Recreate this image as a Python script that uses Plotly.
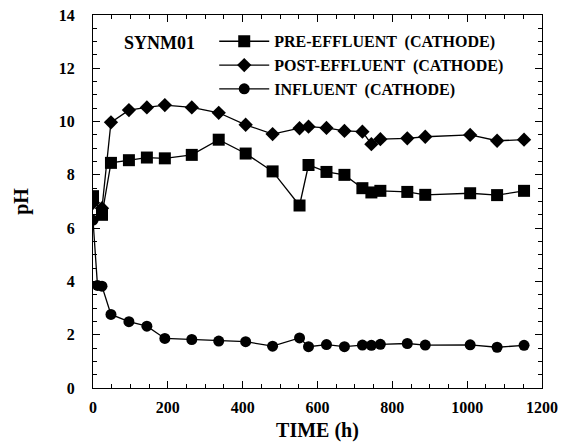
import plotly.graph_objects as go

time_main = [0, 24, 48, 96, 144, 192, 264, 336, 408, 480, 552, 576, 624, 672, 720, 744, 768, 840, 888, 1008, 1080, 1152]
pre_effluent = [7.2, 6.5, 8.45, 8.55, 8.65, 8.62, 8.75, 9.32, 8.8, 8.13, 6.85, 8.37, 8.11, 8.0, 7.5, 7.34, 7.4, 7.36, 7.25, 7.31, 7.24, 7.4]
post_effluent = [6.95, 6.75, 9.97, 10.43, 10.53, 10.62, 10.53, 10.33, 9.88, 9.53, 9.75, 9.81, 9.76, 9.65, 9.62, 9.15, 9.34, 9.37, 9.43, 9.50, 9.28, 9.32]
time_infl = [0, 12, 24, 48, 96, 144, 192, 264, 336, 408, 480, 552, 576, 624, 672, 720, 744, 768, 840, 888, 1008, 1080, 1152]
influent = [6.3, 3.85, 3.82, 2.76, 2.49, 2.32, 1.86, 1.82, 1.76, 1.74, 1.57, 1.88, 1.55, 1.63, 1.55, 1.61, 1.60, 1.64, 1.67, 1.61, 1.62, 1.53, 1.60]

names = ["PRE-EFFLUENT  (CATHODE)", "POST-EFFLUENT  (CATHODE)", "INFLUENT  (CATHODE)"]
FONT = "Liberation Serif"

fig = go.Figure()
fig.add_trace(go.Scatter(x=time_main, y=pre_effluent, mode="lines+markers", name=names[0],
                         line=dict(color="black", width=1.3),
                         marker=dict(symbol="square", size=12, color="black")))
fig.add_trace(go.Scatter(x=time_main, y=post_effluent, mode="lines+markers", name=names[1],
                         line=dict(color="black", width=1.3),
                         marker=dict(symbol="diamond", size=11, color="black")))
fig.add_trace(go.Scatter(x=time_infl, y=influent, mode="lines+markers", name=names[2],
                         line=dict(color="black", width=1.3),
                         marker=dict(symbol="circle", size=11, color="black")))

axis_common = dict(showgrid=False, zeroline=False, showline=True, linecolor="black", linewidth=1.3,
                   mirror="ticks", ticks="inside", ticklen=7, tickcolor="black", tickwidth=1.2,
                   automargin=False,
                   tickfont=dict(family=FONT, size=16, color="black", weight="bold"))

fig.update_xaxes(range=[0, 1200], dtick=200, tick0=0,
                 minor=dict(dtick=50, ticks="inside", ticklen=4, tickcolor="black"),
                 title=dict(text="<b>TIME (h)</b>", font=dict(family=FONT, size=20, color="black"), standoff=8),
                 ticklabelstandoff=5, **axis_common)
fig.update_yaxes(range=[0, 14], dtick=2, tick0=0,
                 minor=dict(dtick=0.5, ticks="inside", ticklen=4, tickcolor="black"),
                 title=dict(text="<b>pH</b>", font=dict(family=FONT, size=20, color="black"), standoff=24),
                 ticklabelstandoff=14, **axis_common)

fig.add_annotation(x=0.065, y=0.925, xref="paper", yref="paper", xanchor="left", yanchor="middle",
                   text="<b>SYNM01</b>", showarrow=False, font=dict(family=FONT, size=18, color="black"))

fig.update_layout(
    width=562, height=442,
    margin=dict(l=93, r=20, t=15, b=54),
    paper_bgcolor="white", plot_bgcolor="white",
    showlegend=True,
    legend=dict(x=0.27, y=0.975, xanchor="left", yanchor="top", bgcolor="rgba(0,0,0,0)",
                font=dict(family=FONT, size=16, color="black", weight="bold"),
                tracegroupgap=0, itemwidth=50),
)

fig.write_html("out.html")
